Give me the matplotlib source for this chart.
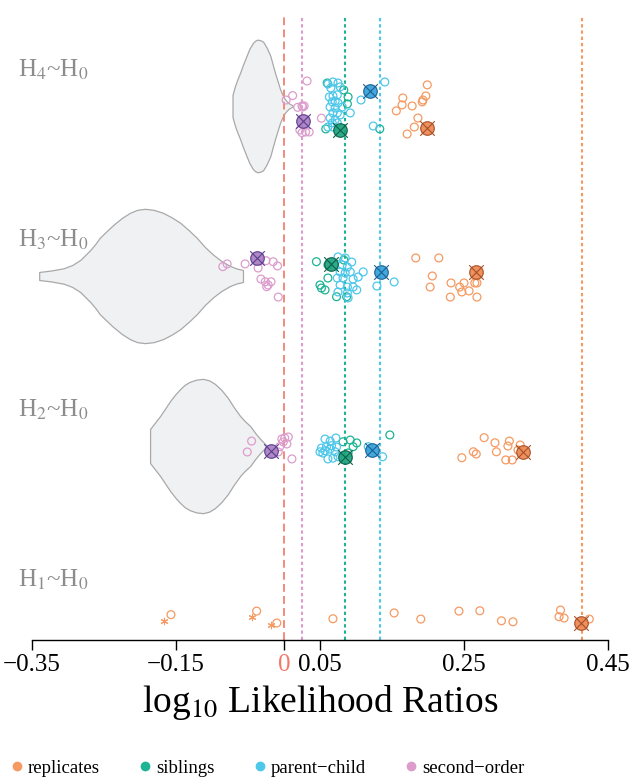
import matplotlib
matplotlib.use('Agg')
import matplotlib.pyplot as plt
from matplotlib.lines import Line2D

plt.rcParams['font.family'] = ['Liberation Serif', 'DejaVu Serif']
plt.rcParams['mathtext.fontset'] = 'stix'

# row labels (y position 1..4)
row_pos = [1, 2, 3, 4]
row_labels = [r'H$_1$~H$_0$', r'H$_2$~H$_0$', r'H$_3$~H$_0$', r'H$_4$~H$_0$']

# ---- H4 ~ H0
h4_rep_x = [0.199, 0.165, 0.193, 0.197, 0.156, 0.178, 0.164, 0.186, 0.181, 0.171, 0.192]
h4_rep_y = [4.124, 4.047, 4.035, 4.059, 3.971, 4.0, 4.006, 3.929, 3.876, 3.835, 4.024]
h4_sib_x = [0.060, 0.089, 0.088, 0.058, 0.133, 0.083]
h4_sib_y = [4.135, 4.053, 4.012, 3.865, 3.865, 4.094]
h4_pc_x = [0.061, 0.068, 0.075, 0.078, 0.065, 0.063, 0.068, 0.074, 0.067, 0.071, 0.075, 0.064, 0.071, 0.081,
           0.068, 0.074, 0.078, 0.064, 0.071, 0.067, 0.074, 0.061, 0.068, 0.092, 0.107, 0.140, 0.124]
h4_pc_y = [4.129, 4.141, 4.135, 4.112, 4.106, 4.053, 4.059, 4.065, 4.024, 4.029, 4.018, 3.994, 3.988, 3.994,
           3.959, 3.959, 3.947, 3.929, 3.918, 3.9, 3.9, 3.876, 3.876, 3.959, 4.035, 4.141, 3.882]
h4_so_x = [0.032, 0.012, 0.003, 0.025, 0.028, 0.026, 0.052, 0.022, 0.030, 0.035, 0.025, 0.019]
h4_so_y = [4.147, 4.061, 4.035, 4.0, 4.0, 3.994, 3.928, 3.859, 3.847, 3.847, 3.843, 3.992]

# ---- H3 ~ H0
h3_rep_x = [0.183, 0.215, 0.206, 0.203, 0.232, 0.231, 0.244, 0.250, 0.247, 0.257, 0.265, 0.268, 0.268]
h3_rep_y = [3.106, 3.106, 3.0, 2.935, 2.959, 2.876, 2.935, 2.959, 2.906, 2.912, 2.959, 2.959, 2.876]
h3_sib_x = [0.045, 0.061, 0.083, 0.061, 0.050, 0.052, 0.057, 0.073, 0.087]
h3_sib_y = [3.084, 3.065, 3.094, 2.988, 2.947, 2.929, 2.918, 2.878, 2.878]
h3_pc_x = [0.075, 0.085, 0.094, 0.081, 0.088, 0.078, 0.085, 0.092, 0.110, 0.074, 0.082,
           0.096, 0.078, 0.088, 0.096, 0.075, 0.088, 0.101, 0.103, 0.089, 0.129, 0.153]
h3_pc_y = [3.112, 3.106, 3.082, 3.065, 3.053, 3.024, 3.018, 3.024, 3.024, 2.988, 2.988,
           2.982, 2.947, 2.935, 2.935, 2.906, 2.9, 2.918, 2.994, 2.871, 2.941, 2.965]
h3_so_x = [-0.085, -0.079, -0.054, -0.036, -0.025, -0.015, -0.009, -0.032, -0.026, -0.018, -0.022, -0.024, -0.008]
h3_so_y = [3.055, 3.071, 3.071, 3.047, 3.09, 3.084, 3.059, 2.982, 2.966, 2.966, 2.947, 2.937, 2.876]

# ---- H2 ~ H0
h2_rep_x = [0.278, 0.293, 0.313, 0.311, 0.263, 0.267, 0.295, 0.247, 0.308, 0.317, 0.328, 0.325]
h2_rep_y = [2.049, 2.019, 2.029, 2.0, 1.966, 1.953, 1.966, 1.931, 1.918, 1.918, 2.006, 1.976]
h2_sib_x = [0.082, 0.092, 0.101, 0.096, 0.147, 0.089]
h2_sib_y = [2.025, 2.035, 2.018, 1.996, 2.065, 1.959]
h2_pc_x = [0.057, 0.064, 0.072, 0.052, 0.059, 0.066, 0.073, 0.050, 0.057, 0.064, 0.071, 0.061,
           0.068, 0.075, 0.054, 0.117, 0.137]
h2_pc_y = [2.041, 2.029, 2.047, 1.988, 1.996, 2.002, 1.994, 1.966, 1.972, 1.982, 1.966, 1.924,
           1.929, 1.937, 1.959, 1.996, 1.937]
h2_so_x = [-0.045, -0.051, -0.003, 0.001, 0.006, -0.001, 0.004, -0.006, 0.011, -0.008]
h2_so_y = [2.029, 1.965, 2.041, 2.047, 2.053, 2.024, 2.012, 1.996, 1.924, 1.965]

# ---- H1 ~ H0 (replicates only)
h1_rep_x = [-0.157, -0.038, -0.010, 0.068, 0.153, 0.190, 0.243, 0.272, 0.302, 0.318, 0.384, 0.382, 0.389, 0.424]
h1_rep_y = [1.008, 1.029, 0.959, 0.984, 1.018, 0.982, 1.029, 1.031, 0.972, 0.966, 1.035, 0.996, 0.988, 0.982]
h1_star_x = [-0.167, -0.044, -0.018]
h1_star_y = [0.972, 0.994, 0.947]

# group summary markers (x, y)
rep_mean_x = [0.413, 0.332, 0.267, 0.199]
rep_mean_y = [0.957, 1.966, 3.024, 3.871]
sib_mean_x = [0.085, 0.065, 0.078]
sib_mean_y = [1.937, 3.071, 3.859]
pc_mean_x = [0.122, 0.135, 0.119]
pc_mean_y = [1.976, 3.024, 4.088]
so_mean_x = [-0.018, -0.038, 0.026]
so_mean_y = [1.972, 3.106, 3.912]

# vertical reference lines
ref_lines = [0.414, 0.085, 0.133, 0.025]

# violin outlines (value, relative density)
h2_vio_x = [-0.186, -0.179, -0.172, -0.165, -0.158, -0.151, -0.144, -0.138, -0.131, -0.122, -0.1125, -0.104,
            -0.096, -0.087, -0.078, -0.070, -0.061, -0.054, -0.047, -0.040, -0.033, -0.029, -0.025]
h2_vio_d = [17, 23.5, 30, 37.5, 45, 51.5, 57, 61, 64, 66.2, 67, 65.5, 62, 56, 48, 39, 30, 24.5, 20, 13, 7, 4, 1]
h3_vio_x = [-0.340, -0.323, -0.306, -0.294, -0.283, -0.276, -0.269, -0.262, -0.256, -0.246, -0.237, -0.225,
            -0.214, -0.204, -0.193, -0.181, -0.168, -0.156, -0.144, -0.132, -0.121, -0.110, -0.098, -0.087,
            -0.075, -0.066, -0.057]
h3_vio_d = [4, 5.5, 7.7, 11, 16, 21, 26, 32, 38, 45, 51, 58, 63, 66, 67, 66, 63, 58.5, 53, 45.5, 38, 29, 21, 15,
            10, 7.5, 6]
h4_vio_x = [-0.0715, -0.070, -0.068, -0.065, -0.061, -0.057, -0.052, -0.048, -0.043, -0.040, -0.037, -0.033,
            -0.029, -0.024, -0.019, -0.016, -0.0125, -0.009, -0.0056, -0.002, 0.001, 0.006, 0.012]
h4_vio_d = [11, 15, 20, 26, 33, 41, 50, 57, 63, 65, 66, 65.5, 64, 58, 50, 42, 33, 25, 17, 11, 7, 3, 0.5]

groups = ['replicates', 'siblings', 'parent\u2212child', 'second\u2212order']
c_light = ['#F59A62', '#1DB393', '#4DC7EA', '#DC9DCC']
c_fill = ['#EC8550', '#17A07C', '#2F9FD9', '#A77CBF']
c_dark = ['#A84F23', '#0B6248', '#1A5F94', '#5B3C8E']

fig = plt.figure(figsize=(6.34, 7.77), dpi=100)
ax = fig.add_axes([32 / 634, 137 / 777, 576 / 634, 625 / 777])

# violins
stats = []
for vx, vd in [(h2_vio_x, h2_vio_d), (h3_vio_x, h3_vio_d), (h4_vio_x, h4_vio_d)]:
    stats.append({'coords': vx, 'vals': vd, 'mean': 0, 'median': 0,
                  'min': min(vx), 'max': max(vx), 'quantiles': []})
try:
    vp = ax.violin(stats, positions=[2, 3, 4], orientation='horizontal',
                   widths=[0.79, 0.79, 0.78], showextrema=False)
except TypeError:
    vp = ax.violin(stats, positions=[2, 3, 4], vert=False,
                   widths=[0.79, 0.79, 0.78], showextrema=False)
for b in vp['bodies']:
    b.set_facecolor('#F0F1F3')
    b.set_edgecolor('#A9A9A9')
    b.set_linewidth(0.9)
    b.set_alpha(1)
    b.set_zorder(1)

# reference lines
ax.axvline(0, color='#F28A7C', lw=1.4, dashes=(4, 2.2), zorder=2)
for xv, c in zip(ref_lines, c_light):
    ax.axvline(xv, color=c, lw=1.5, dashes=(1.6, 1.4), zorder=2)

# points
pts = [
    [(h4_rep_x, h4_rep_y), (h3_rep_x, h3_rep_y), (h2_rep_x, h2_rep_y), (h1_rep_x, h1_rep_y)],
    [(h4_sib_x, h4_sib_y), (h3_sib_x, h3_sib_y), (h2_sib_x, h2_sib_y)],
    [(h4_pc_x, h4_pc_y), (h3_pc_x, h3_pc_y), (h2_pc_x, h2_pc_y)],
    [(h4_so_x, h4_so_y), (h3_so_x, h3_so_y), (h2_so_x, h2_so_y)],
]
for gi, rows in enumerate(pts):
    for xs, ys in rows:
        ax.scatter(xs, ys, s=32, facecolors='none', edgecolors=c_light[gi],
                   linewidths=0.9, zorder=3)
ax.scatter(h1_star_x, h1_star_y, s=22, marker=(6, 2, 0), color=c_light[0],
           linewidths=0.8, zorder=3)

means = [(rep_mean_x, rep_mean_y), (sib_mean_x, sib_mean_y),
         (pc_mean_x, pc_mean_y), (so_mean_x, so_mean_y)]
for gi, (mx, my) in enumerate(means):
    ax.scatter(mx, my, s=95, marker='o', facecolor=c_fill[gi], edgecolor=c_dark[gi],
               linewidths=0.9, alpha=0.9, zorder=5)
    ax.scatter(mx, my, s=110, marker='x', color=c_dark[gi], linewidths=0.8, zorder=6)

# row labels
for p, lab in zip(row_pos, row_labels):
    ax.text(-0.3695, p + 0.21, lab, fontsize=18, color='#8C8C8C',
            ha='left', va='center', clip_on=False)

ax.set_xlim(-0.35, 0.45)
ax.set_ylim(0.859, 4.535)
ax.set_yticks([])
for s in ['left', 'right', 'top']:
    ax.spines[s].set_visible(False)
ax.spines['bottom'].set_linewidth(1.0)

xt = [-0.35, -0.15, 0, 0.05, 0.25, 0.45]
xt_labels = ['\u22120.35', '\u22120.15', '0', '0.05', '0.25', '0.45']
ax.set_xticks(xt)
ax.set_xticklabels(xt_labels, fontsize=18)
ax.tick_params(axis='x', length=7, width=1.0, pad=3)
ax.get_xticklabels()[2].set_color('#F4786A')
ax.set_xlabel(r'log$_{10}$ Likelihood Ratios', fontsize=27, labelpad=5)

handles = [Line2D([], [], marker='o', ls='none', color=c, markersize=6) for c in c_light]
fig.legend(handles, groups, loc='lower left', bbox_to_anchor=(-0.006, -0.014), ncol=4,
           frameon=False, fontsize=13.5, handletextpad=0.1, columnspacing=1.9,
           handlelength=1.0, borderaxespad=0.2)

fig.savefig('out.png', dpi=100)
